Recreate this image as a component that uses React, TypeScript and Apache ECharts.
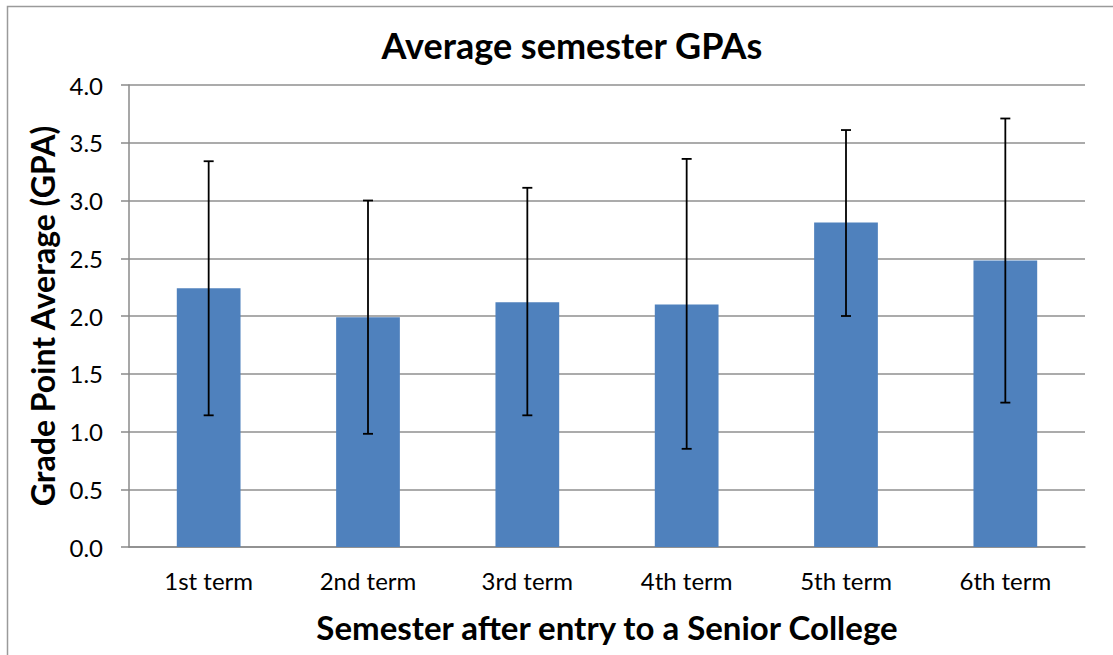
import React, { useEffect, useRef } from "react";
import * as echarts from "echarts";

const categories = ["1st term", "2nd term", "3rd term", "4th term", "5th term", "6th term"];
const meanGPA = [2.24, 1.99, 2.12, 2.1, 2.81, 2.48];
const errLow = [1.14, 0.98, 1.14, 0.85, 2.0, 1.25];
const errHigh = [3.34, 3.0, 3.11, 3.36, 3.61, 3.71];

const FONT = "Lato, 'Open Sans', sans-serif";

export default function App() {
  const ref = useRef<HTMLDivElement>(null);
  useEffect(() => {
    if (!ref.current) return;
    const chart = echarts.init(ref.current, null, { renderer: "svg" });
    const errData = categories.map((_, i) => [i, errLow[i], errHigh[i]]);
    chart.setOption({
      animation: false,
      backgroundColor: "#ffffff",
      textStyle: { fontFamily: FONT },
      title: {
        text: "Average semester GPAs",
        left: 567,
        top: 22,
        textAlign: "center",
        textStyle: { fontFamily: FONT, fontSize: 36, fontWeight: "bold", color: "#000" },
      },
      graphic: [
        {
          type: "rect",
          shape: { x: 7.5, y: 6.5, width: 1200, height: 700 },
          style: { fill: "none", stroke: "#9a9a9a", lineWidth: 1.5 },
          silent: true,
        },
      ],
      grid: { left: 129, right: 28, top: 85, bottom: 108, containLabel: false },
      xAxis: {
        type: "category",
        data: categories,
        axisLine: { show: true, lineStyle: { color: "#8a8a8a", width: 1.5 } },
        axisTick: { show: false },
        axisLabel: { fontFamily: FONT, fontSize: 24, color: "#000", margin: 21 },
        name: "Semester after entry to a Senior College",
        nameLocation: "middle",
        nameGap: 63,
        nameTextStyle: { fontFamily: FONT, fontSize: 33, fontWeight: "bold", color: "#000" },
      },
      yAxis: {
        type: "value",
        min: 0,
        max: 4,
        interval: 0.5,
        axisLine: { show: true, lineStyle: { color: "#8a8a8a", width: 1.5 } },
        axisTick: { show: true, inside: false, length: 8, lineStyle: { color: "#8a8a8a", width: 1.5 } },
        splitLine: { show: true, lineStyle: { color: "#8f8f8f", width: 1.5 } },
        axisLabel: {
          fontFamily: FONT,
          fontSize: 24,
          color: "#000",
          margin: 26,
          formatter: (v: number) => v.toFixed(1),
        },
        name: "Grade Point Average (GPA)",
        nameLocation: "middle",
        nameGap: 68,
        nameTextStyle: { fontFamily: FONT, fontSize: 32, fontWeight: "bold", color: "#000" },
      },
      series: [
        {
          type: "bar",
          data: meanGPA,
          barWidth: "40%",
          itemStyle: { color: "#4F81BD" },
        },
        {
          type: "custom",
          data: errData,
          z: 10,
          renderItem: (params: any, api: any) => {
            const x = api.value(0);
            const lo = api.coord([x, api.value(1)]);
            const hi = api.coord([x, api.value(2)]);
            const half = 5;
            const style = { stroke: "#000", lineWidth: 1.8 };
            return {
              type: "group",
              children: [
                { type: "line", shape: { x1: lo[0], y1: lo[1], x2: hi[0], y2: hi[1] }, style },
                { type: "line", shape: { x1: hi[0] - half, y1: hi[1], x2: hi[0] + half, y2: hi[1] }, style },
                { type: "line", shape: { x1: lo[0] - half, y1: lo[1], x2: lo[0] + half, y2: lo[1] }, style },
              ],
            };
          },
        },
      ],
    });
    return () => chart.dispose();
  }, []);
  return (
    <div
      ref={ref}
      style={{ position: "fixed", left: 0, top: 0, width: 1113, height: 655 }}
    />
  );
}
